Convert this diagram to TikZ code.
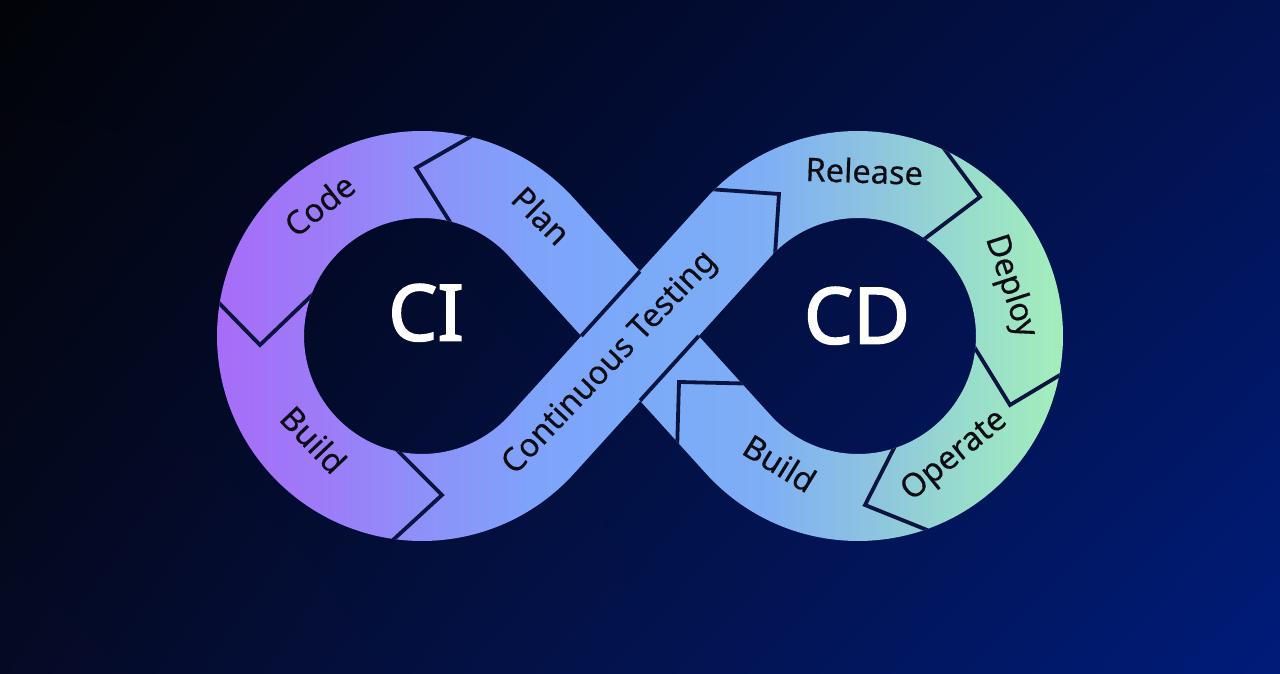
\documentclass[tikz,border=0pt]{standalone}
\usepackage{fontspec}
\setmainfont{Noto Sans}
\newfontfamily\bigfont{Noto Sans}[FakeBold=2.2]
\newfontfamily\lblfont{Noto Sans}[FakeBold=0.4]
\usetikzlibrary{calc,shadings}
\definecolor{bgTL}{HTML}{020308}
\definecolor{bgTR}{HTML}{021250}
\definecolor{bgBL}{HTML}{050A24}
\definecolor{bgBR}{HTML}{001C7A}
\definecolor{bA}{HTML}{A76CF7}
\definecolor{bB}{HTML}{9C7CF8}
\definecolor{bC}{HTML}{8E90F9}
\definecolor{bD}{HTML}{7EA4FA}
\definecolor{bE}{HTML}{7BAAF9}
\definecolor{bF}{HTML}{7EAEF5}
\definecolor{bG}{HTML}{8CC2E2}
\definecolor{bH}{HTML}{98DCCC}
\definecolor{bI}{HTML}{A4EFBA}
\definecolor{chevcol}{HTML}{0B1440}
\definecolor{labelcol}{HTML}{0C0C14}
\pgfdeclarehorizontalshading{bandshade}{100bp}{color(0bp)=(bA); color(25bp)=(bA); color(31.5bp)=(bB); color(37bp)=(bC); color(44bp)=(bD); color(50bp)=(bE); color(57bp)=(bF); color(63bp)=(bG); color(69bp)=(bH); color(75bp)=(bI); color(100bp)=(bI)}
\tikzset{
  chev/.style={draw=chevcol, line width=3.8pt, line join=miter, line cap=butt},
  lbl/.style={text=labelcol, inner sep=0pt, font=\lblfont\fontsize{32.5}{36}\selectfont, text height=0.6em, text depth=0pt},
  big/.style={text=white, inner sep=0pt, font=\bigfont\fontsize{78}{90}\selectfont, text height=0.714em, text depth=0pt}
}
\begin{document}
\begin{tikzpicture}[x=1pt,y=1pt]
\useasboundingbox (0,0) rectangle (1280,674);
\shade[upper left=bgTL,upper right=bgTR,lower left=bgBL,lower right=bgBR] (0,0) rectangle (1280,674);

\coordinate (C1) at (422,338);
\coordinate (C2) at (858,338);
% strip A (Continuous Testing)
\coordinate (P1) at (573.87,200.32);
\coordinate (P2) at (770.57,417.24);
\coordinate (P3) at (706.13,475.68);
\coordinate (P4) at (509.43,258.76);
% strip B (Build -> Plan)
\coordinate (Q1) at (706.13,200.32);
\coordinate (Q2) at (770.57,258.76);
\coordinate (Q3) at (573.87,475.68);
\coordinate (Q4) at (509.43,417.24);

% chevron points
\coordinate (PCt) at (416,506); \coordinate (PCo) at (470,537); \coordinate (PCi) at (450,452);
\coordinate (CBt) at (260,329); \coordinate (CBo) at (218,372); \coordinate (CBi) at (307,374);
\coordinate (BTt) at (442,179); \coordinate (BTi) at (402,219); \coordinate (BTo) at (393,134);
\coordinate (TRt) at (779,480); \coordinate (TRo) at (722,484); \coordinate (TRi) at (775,419);
\coordinate (RDt) at (980,477); \coordinate (RDo) at (945,524); \coordinate (RDi) at (927,437);
\coordinate (DOt) at (1010,269); \coordinate (DOi) at (978,321); \coordinate (DOo) at (1060,299);
\coordinate (OBt) at (865,169); \coordinate (OBi) at (892,222); \coordinate (OBo) at (927,144);
\coordinate (BPt) at (679,292); \coordinate (BPa) at (741.74,290.55); \coordinate (BPb) at (677.3,232.1);

\begin{scope}
  \clip ($(C1)+(42.2:205)$) arc[start angle=42.2,end angle=317.8,radius=205]
        -- ($(C1)+(317.8:118)$) arc[start angle=317.8,end angle=42.2,radius=118] -- cycle
        ($(C2)+(-137.8:205)$) arc[start angle=-137.8,end angle=137.8,radius=205]
        -- ($(C2)+(137.8:118)$) arc[start angle=137.8,end angle=-137.8,radius=118] -- cycle
        (P1) -- (P2) -- (P3) -- (P4) -- cycle
        (Q1) -- (Q2) -- (Q3) -- (Q4) -- cycle;
  \shade[shading=bandshade] (215,100) rectangle (1068,580);
  \draw[chev] ($(PCt)!1.2!(PCo)$) -- (PCt) -- ($(PCt)!1.2!(PCi)$);
  \draw[chev] ($(CBt)!1.2!(CBo)$) -- (CBt) -- ($(CBt)!1.2!(CBi)$);
  \draw[chev] ($(BTt)!1.2!(BTo)$) -- (BTt) -- ($(BTt)!1.2!(BTi)$);
  \draw[chev] ($(TRt)!1.2!(TRo)$) -- (TRt) -- ($(TRt)!1.2!(TRi)$);
  \draw[chev] ($(RDt)!1.2!(RDo)$) -- (RDt) -- ($(RDt)!1.2!(RDi)$);
  \draw[chev] ($(DOt)!1.2!(DOo)$) -- (DOt) -- ($(DOt)!1.2!(DOi)$);
  \draw[chev] ($(OBt)!1.2!(OBo)$) -- (OBt) -- ($(OBt)!1.2!(OBi)$);
  \draw[chev] ($(BPt)!1.2!(BPa)$) -- (BPt) -- ($(BPt)!1.2!(BPb)$);
  \begin{scope}
    \clip (Q1) -- (Q2) -- (Q3) -- (Q4) -- cycle;
    \draw[chev] (P1) -- (P2) (P4) -- (P3);
  \end{scope}
\end{scope}

\node[big] (ci) at (426,337) {CI};
\node[big] (cd) at (857,334) {CD};

\node[lbl, rotate=38] (code) at (325,462) {Code};
\node[lbl, rotate=-44.7] (plan) at (535,452) {Plan};
\node[lbl, rotate=-46.3] (buildci) at (307,228) {Build};
\node[lbl, rotate=46.5] (test) at (614,307) {Continuous Testing};
\node[lbl, rotate=-2] (release) at (864,494) {Release};
\node[lbl, rotate=-72] (deploy) at (1005,386) {Deploy};
\node[lbl, rotate=39] (operate) at (958,214) {Operate};
\node[lbl, rotate=-31.6] (buildcd) at (775,203) {Build};
\end{tikzpicture}
\end{document}
